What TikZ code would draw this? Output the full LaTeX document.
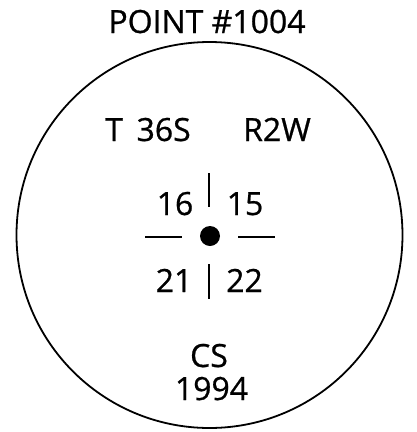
\documentclass[tikz,border=0pt]{standalone}
\usepackage{fontspec}
\setmainfont{Open Sans}[FakeBold=0.7]
\begin{document}
\begin{tikzpicture}[x=1pt,y=-1pt,
  lbl/.style={anchor=base,inner sep=0pt,font=\fontsize{32}{36}\selectfont},
  tick/.style={line width=1.6pt}]
\useasboundingbox (0,0) rectangle (417,432);
\node[lbl] (title) at (207,33) {POINT \#1004};
\draw[line width=1.8pt] (209.5,235) circle[radius=193];
\node[lbl] (t) at (148,141) {T\ \,36S};
\node[lbl] (r) at (277,141) {R2W};
\node[lbl] (s16) at (175,215) {16};
\node[lbl] (s15) at (245,215) {15};
\node[lbl] (s21) at (174,292) {21};
\node[lbl] (s22) at (244.5,292) {22};
\node[lbl] (cs) at (209,367) {CS};
\node[lbl] (yr) at (211.5,400) {1994};
\fill (210,236) circle[radius=10];
\coordinate (vt1) at (209,173); \coordinate (vt2) at (209,207);
\coordinate (vb1) at (209,264); \coordinate (vb2) at (209,299);
\coordinate (hl1) at (145,237); \coordinate (hl2) at (182,237);
\coordinate (hr1) at (238,237); \coordinate (hr2) at (275,237);
\draw[tick] (vt1) -- (vt2);
\draw[tick] (vb1) -- (vb2);
\draw[tick] (hl1) -- (hl2);
\draw[tick] (hr1) -- (hr2);
\end{tikzpicture}
\end{document}
